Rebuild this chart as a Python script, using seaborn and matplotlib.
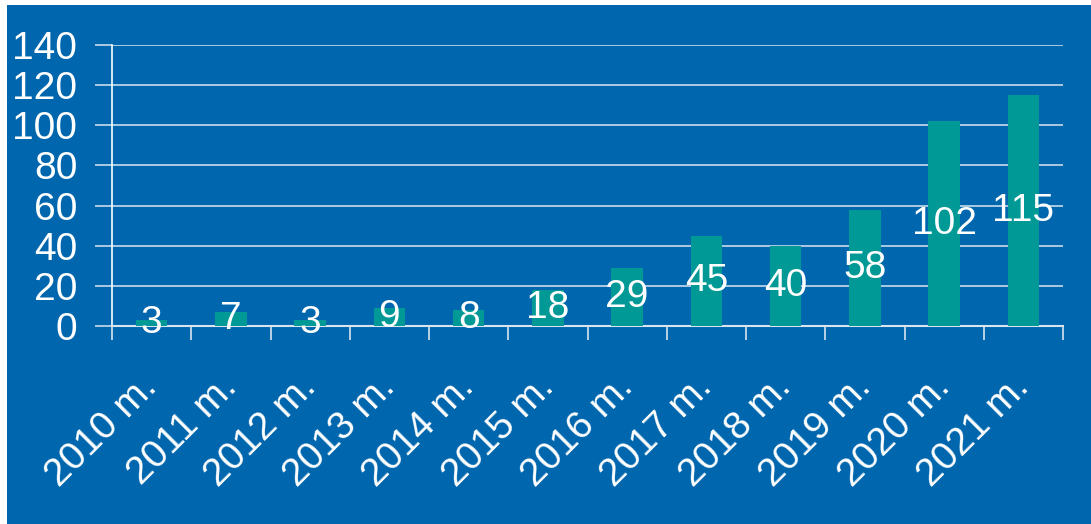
import matplotlib
matplotlib.use("Agg")
import matplotlib.pyplot as plt
import matplotlib.patches as mpatches
import seaborn as sns
import pandas as pd

# Chart data
years = ["2010 m.", "2011 m.", "2012 m.", "2013 m.", "2014 m.", "2015 m.",
         "2016 m.", "2017 m.", "2018 m.", "2019 m.", "2020 m.", "2021 m."]
counts = [3, 7, 3, 9, 8, 18, 29, 45, 40, 58, 102, 115]
y_ticks = [0, 20, 40, 60, 80, 100, 120, 140]

bg_blue = "#0066AD"
bar_teal = "#009995"

sns.set_theme(style="white")
plt.rcParams["font.family"] = ["Liberation Sans", "DejaVu Sans"]

df = pd.DataFrame({"year": years, "count": counts})

fig = plt.figure(figsize=(10.91, 5.24), dpi=100)
fig.patch.set_facecolor("white")
# blue panel (thin white border on left and top)
fig.add_artist(mpatches.Rectangle((7 / 1091, 0), 1, 1 - 5 / 524,
                                  transform=fig.transFigure,
                                  facecolor=bg_blue, edgecolor="none", zorder=0))

ax = fig.add_axes([112 / 1091, 1 - 326 / 524, (1063 - 112) / 1091, (326 - 45) / 524])
ax.set_facecolor(bg_blue)

sns.barplot(data=df, x="year", y="count", color=bar_teal, width=0.4,
            saturation=1, edgecolor="none", linewidth=0, ax=ax, zorder=3)

for c in ax.containers:
    ax.bar_label(c, labels=[str(v) for v in counts], label_type="center",
                 color="white", fontsize=28, zorder=4)

ax.set_ylim(0, 140)
ax.set_yticks(y_ticks)
ax.set_xlim(-0.5, len(years) - 0.5)
ax.grid(axis="y", color="#C9DAEA", linewidth=1.2, zorder=1)
ax.set_axisbelow(True)

for s in ["top", "right"]:
    ax.spines[s].set_visible(False)
ax.spines["left"].set_color("white")
ax.spines["bottom"].set_color("#D9E4EF")
ax.spines["left"].set_linewidth(1.2)
ax.spines["bottom"].set_linewidth(1.5)

ax.tick_params(axis="y", colors="white", labelsize=28, length=12,
               width=1.2, pad=13, left=True)
ax.tick_params(axis="y", which="major", color="#C9DAEA")
ax.set_xticks(range(len(years)))
ax.set_xticklabels(years, rotation=45, ha="right", va="center",
                   rotation_mode="anchor", fontsize=28, color="white")
ax.tick_params(axis="x", which="major", length=0, pad=40)
ax.set_xticks([i - 0.5 for i in range(len(years) + 1)], minor=True)
ax.tick_params(axis="x", which="minor", length=10, width=1.2,
               color="#D9E4EF", bottom=True)

ax.set_xlabel("")
ax.set_ylabel("")

fig.savefig("out.png", dpi=100, facecolor=fig.get_facecolor())
